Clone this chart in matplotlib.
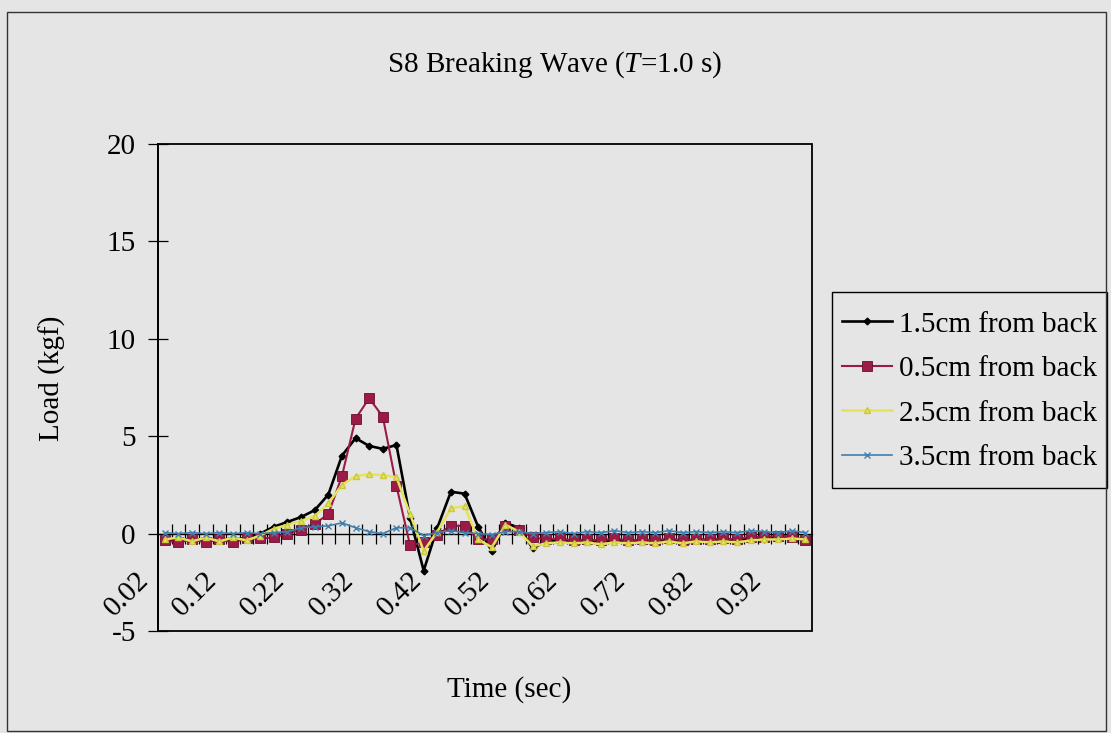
import matplotlib
matplotlib.use("Agg")
import matplotlib.pyplot as plt
from matplotlib.transforms import ScaledTranslation
from matplotlib.patches import Rectangle

# ---------------- data ----------------
times = ["0.02", "0.04", "0.06", "0.08", "0.10", "0.12", "0.14", "0.16", "0.18", "0.20",
         "0.22", "0.24", "0.26", "0.28", "0.30", "0.32", "0.34", "0.36", "0.38", "0.40",
         "0.42", "0.44", "0.46", "0.48", "0.50", "0.52", "0.54", "0.56", "0.58", "0.60",
         "0.62", "0.64", "0.66", "0.68", "0.70", "0.72", "0.74", "0.76", "0.78", "0.80",
         "0.82", "0.84", "0.86", "0.88", "0.90", "0.92", "0.94", "0.96"]

load_15cm = [-0.25, -0.35, -0.25, -0.35, -0.25, -0.35, -0.2, 0.0, 0.35, 0.6,
             0.85, 1.2, 2.0, 4.0, 4.9, 4.5, 4.35, 4.55, 0.8, -1.9,
             0.3, 2.15, 2.05, 0.35, -0.9, 0.55, 0.3, -0.75, -0.4, -0.35,
             -0.45, -0.35, -0.45, -0.35, -0.45, -0.3, -0.4, -0.35, -0.4, -0.3,
             -0.35, -0.3, -0.35, -0.25, -0.3, -0.2, -0.25, -0.3]

load_05cm = [-0.35, -0.45, -0.3, -0.45, -0.3, -0.45, -0.25, -0.25, -0.2, 0.0,
             0.2, 0.5, 1.0, 2.95, 5.9, 6.95, 6.0, 2.45, -0.6, -0.45,
             -0.05, 0.4, 0.4, -0.3, -0.3, 0.4, 0.2, -0.2, -0.3, -0.25,
             -0.35, -0.3, -0.35, -0.25, -0.35, -0.3, -0.35, -0.25, -0.35, -0.3,
             -0.3, -0.25, -0.3, -0.15, -0.2, -0.1, -0.15, -0.35]

load_25cm = [-0.3, -0.2, -0.4, -0.2, -0.4, -0.2, -0.35, -0.1, 0.25, 0.45,
             0.65, 0.9, 1.55, 2.5, 2.95, 3.05, 3.0, 2.9, 1.0, -0.9,
             0.1, 1.3, 1.4, -0.3, -0.7, 0.45, 0.1, -0.65, -0.5, -0.45,
             -0.5, -0.45, -0.55, -0.45, -0.5, -0.45, -0.5, -0.4, -0.5, -0.4,
             -0.45, -0.4, -0.45, -0.35, -0.3, -0.3, -0.25, -0.3]

load_35cm = [0.05, 0.0, 0.05, 0.0, 0.05, 0.0, 0.05, 0.0, 0.05, 0.1,
             0.3, 0.35, 0.4, 0.55, 0.3, 0.1, 0.0, 0.3, 0.3, -0.1,
             0.05, 0.15, 0.05, 0.0, -0.05, 0.1, 0.1, 0.0, 0.05, 0.1,
             0.0, 0.1, 0.05, 0.15, 0.05, 0.1, 0.05, 0.15, 0.05, 0.1,
             0.05, 0.1, 0.05, 0.15, 0.1, 0.05, 0.15, 0.05]

series_labels = ["1.5cm from back", "0.5cm from back", "2.5cm from back", "3.5cm from back"]
label_every = 5
y_ticks = [-5, 0, 5, 10, 15, 20]

# ---------------- style ----------------
BG = "#e5e5e5"
FONT = "Liberation Serif"
FS = 21
plt.rcParams["font.family"] = [FONT, "DejaVu Serif"]
plt.rcParams["mathtext.fontset"] = "custom"
plt.rcParams["mathtext.rm"] = FONT
plt.rcParams["mathtext.it"] = FONT + ":italic"

W, H, DPI = 1111, 733, 100
fig = plt.figure(figsize=(W / DPI, H / DPI), dpi=DPI, facecolor=BG)

# plot area in pixels: left 158, right 812, top 144, bottom 631
ax = fig.add_axes([158 / W, (H - 631) / H, (812 - 158) / W, (631 - 144) / H])
ax.set_facecolor(BG)

x = list(range(len(times)))
l1, = ax.plot(x, load_15cm, color="black", lw=1.9, marker="D", ms=3.4,
              mfc="black", mec="black", zorder=3)
l2, = ax.plot(x, load_05cm, color="#9c1a46", lw=1.5, marker="s", ms=7.6,
              mfc="#9c1a46", mec="#6a0f2e", mew=0.6, zorder=4)
l3, = ax.plot(x, load_25cm, color="#e4e35a", lw=1.8, marker="^", ms=3.8,
              mfc="#e4e35a", mec="#c9c840", zorder=5)
l4, = ax.plot(x, load_35cm, color="#3f7fae", lw=1.2, marker="x", ms=3.8,
              mew=1.0, zorder=6)

ax.set_xlim(-0.5, len(times) - 0.5)
ax.set_ylim(-5, 20)
ax.set_yticks(y_ticks)
ax.set_yticklabels([str(v) for v in y_ticks], fontsize=FS)

# category axis crosses at y = 0
ax.spines["bottom"].set_position(("data", 0))
ax.spines["bottom"].set_linewidth(1.0)
ax.spines["top"].set_visible(False)
ax.spines["right"].set_visible(False)
ax.spines["left"].set_linewidth(1.3)
ax.add_patch(Rectangle((0, 0), 1, 1, transform=ax.transAxes, fill=False,
                       ec="black", lw=1.3, clip_on=False, zorder=10))

# tick marks between categories
ax.set_xticks([i + 0.5 for i in x[:-1]])
ax.set_xticklabels([])
ax.tick_params(axis="x", which="major", direction="inout", length=14, width=0.9)
# labels every 5 categories
lab_pos = x[::label_every]
ax.set_xticks(lab_pos, minor=True)
ax.set_xticklabels([times[i] for i in lab_pos], minor=True, fontsize=FS,
                   rotation=45, ha="right", va="top", rotation_mode="anchor")
ax.tick_params(axis="x", which="minor", length=0, pad=0)
off = ScaledTranslation(-29 / DPI, -33 / DPI, fig.dpi_scale_trans)
for t in ax.get_xticklabels(minor=True):
    t.set_transform(t.get_transform() + off)

ax.tick_params(axis="y", which="major", direction="inout", length=14, width=0.9, pad=9)

# texts
fig.text(555 / W, 1 - 65 / H, r"S8 Breaking Wave ($\mathit{T}$=1.0 s)",
         ha="center", va="center", fontsize=FS)
fig.text(509 / W, 1 - 690 / H, "Time (sec)", ha="center", va="center", fontsize=FS)
fig.text(52 / W, 1 - 378 / H, "Load (kgf)", ha="center", va="center",
         rotation=90, fontsize=FS)

# legend (frame drawn separately to get Excel-like padding)
leg = fig.legend([l1, l2, l3, l4], series_labels, loc="upper left",
                 bbox_to_anchor=(832 / W, 1 - 301 / H), bbox_transform=fig.transFigure,
                 fontsize=FS, frameon=False, borderpad=0.35, labelspacing=0.62,
                 handlelength=1.7, handletextpad=0.25, borderaxespad=0)
fig.add_artist(Rectangle((832 / W, 1 - 488 / H), (1107 - 832) / W, (488 - 292) / H,
                         transform=fig.transFigure, fill=False, ec="black", lw=1.0))

# outer chart frame
fig.add_artist(Rectangle((7 / W, 2 / H), (1106 - 7) / W, (731 - 12) / H,
                         transform=fig.transFigure, fill=False, ec="#333333", lw=1.0))

fig.savefig("out.png", dpi=DPI, facecolor=BG)
